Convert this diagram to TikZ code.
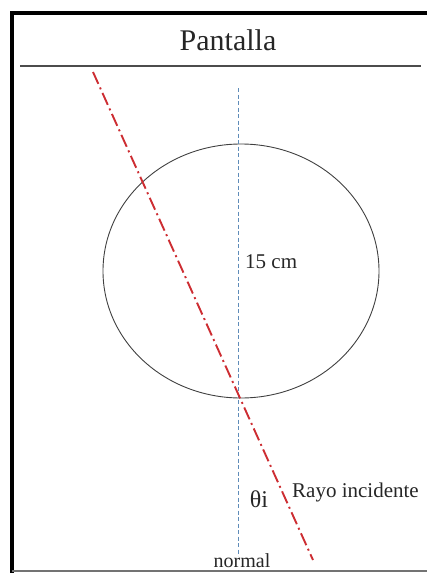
\documentclass[tikz,border=0pt]{standalone}
\usepackage{fontspec}
\setmainfont{Liberation Serif}
\usepackage{tikz}
\usetikzlibrary{shapes.geometric, positioning, calc}

\definecolor{rayred}{RGB}{205,45,50}
\definecolor{normblue}{RGB}{95,140,185}

\begin{document}
\begin{tikzpicture}[
    x=1pt, y=-1pt,
    frame/.style={line width=4pt, black},
    screen/.style={line width=2.2pt, black!70},
    lens/.style={ellipse, draw=black!75, line width=0.9pt, minimum width=276pt, minimum height=254pt, inner sep=0pt},
    normalline/.style={normblue, line width=0.7pt, dash pattern=on 4pt off 2.5pt},
    ray/.style={rayred, line width=1.9pt, dash pattern=on 13pt off 4pt on 2pt off 4pt},
    lbl/.style={font=\fontsize{21}{23}\selectfont, text=black!85, inner sep=1pt}
]
\useasboundingbox (0,0) rectangle (427,573);

% Frame
\draw[frame] (12,573) -- (12,13) -- (427,13);
\draw[black!55, line width=1.2pt] (12,571) -- (427,571);
\draw[screen] (20,66) -- (421,66);

% Title
\node[font=\fontsize{30}{32}\selectfont, text=black!85] (pantalla) at (228,40) {Pantalla};

% Lens
\node[lens] (circulo) at (241,271) {};

% Normal and ray
\coordinate (ntop) at (238,88);
\coordinate (nbot) at (238,556);
\coordinate (rtop) at (93,72);
\coordinate (rbot) at (313,560);
\draw[normalline] (ntop) -- (nbot);
\draw[ray] (rtop) -- (rbot);

% Labels
\node[lbl, anchor=west] (medida) at (244,262) {15 cm};
\node[font=\fontsize{24}{26}\selectfont, text=black!85, inner sep=1pt] (theta) at (259,499) {θi};
\node[lbl, anchor=west] (rayo) at (291,492) {Rayo incidente};
\node[lbl, font=\fontsize{20}{22}\selectfont] (normal) at (242,561) {normal};

\end{tikzpicture}
\end{document}
